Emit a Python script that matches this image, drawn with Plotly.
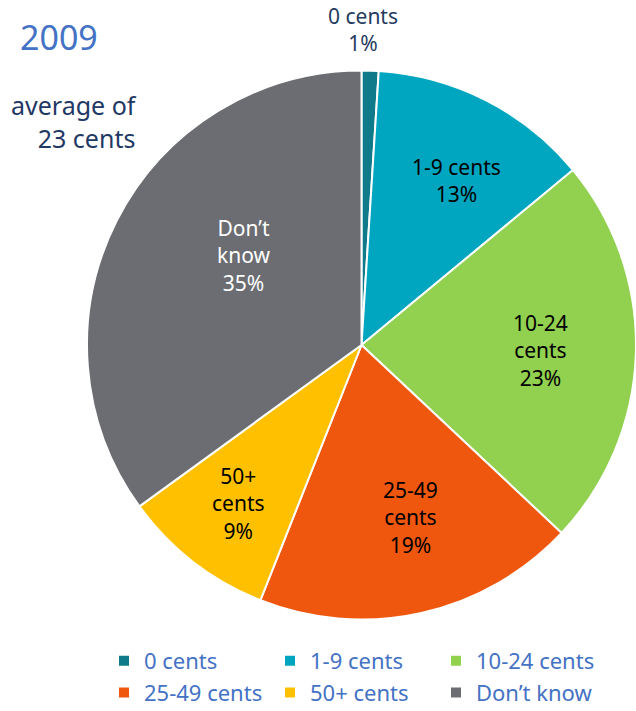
import math
import plotly.graph_objects as go

categories = ["0 cents", "1-9 cents", "10-24 cents", "25-49 cents", "50+ cents", "Don’t know"]
values = [1, 13, 23, 19, 9, 35]
label_texts = ["0 cents<br>1%", "1-9 cents<br>13%", "10-24<br>cents<br>23%",
               "25-49<br>cents<br>19%", "50+<br>cents<br>9%", "Don’t<br>know<br>35%"]
colors = ["#0f7b8a", "#00a6c0", "#92d050", "#ee570d", "#ffc000", "#6b6d72"]
label_colors = ["#243b5e", "#000000", "#000000", "#000000", "#000000", "#ffffff"]
label_radius = [1.146, 0.69, 0.65, 0.65, 0.73, 0.54]
label_angle_shift = [-1.6, 3, 0, -3, 0, 10]

W, H = 636, 711
FONT = "Noto Sans"

# pie geometry in pixels
cx, cy, R = 362, 345, 275

fig = go.Figure()
fig.add_trace(go.Pie(
    labels=categories, values=values, sort=False, direction="clockwise", rotation=0,
    marker=dict(colors=colors, line=dict(color="white", width=2)),
    textinfo="none", hoverinfo="label+percent",
    domain=dict(x=[(cx - R) / W, 1], y=[1 - (cy + R) / H, 1 - (cy - R) / H]),
))

annotations = []
total = sum(values)
cum = 0
for i, v in enumerate(values):
    mid = (cum + v / 2) / total * 360 + label_angle_shift[i]
    cum += v
    r = R * label_radius[i]
    px = cx + r * math.sin(math.radians(mid))
    py = cy - r * math.cos(math.radians(mid))
    annotations.append(dict(
        x=px / W, y=1 - py / H, xref="paper", yref="paper", showarrow=False,
        xanchor="center", yanchor="middle",
        text=label_texts[i], align="center",
        font=dict(family=FONT, size=21, color=label_colors[i]),
    ))

annotations.append(dict(x=18 / W, y=1 - 37 / H, xref="paper", yref="paper", showarrow=False,
                        xanchor="left", yanchor="middle", text="2009",
                        font=dict(family=FONT, size=34, color="#4472c4")))
annotations.append(dict(x=139 / W, y=1 - 121 / H, xref="paper", yref="paper", showarrow=False,
                        xanchor="right", yanchor="middle", align="right",
                        text="average of<br>23 cents",
                        font=dict(family=FONT, size=25, color="#1f3864")))

fig.update_layout(
    width=W, height=H,
    margin=dict(l=0, r=0, t=0, b=0, autoexpand=False),
    paper_bgcolor="white", plot_bgcolor="white",
    annotations=annotations,
    showlegend=True,
    legend=dict(orientation="h", x=104 / W, y=1 - 640 / H, xanchor="left", yanchor="top",
                entrywidth=121, entrywidthmode="pixels", traceorder="normal",
                font=dict(family=FONT, size=22, color="#4472c4")),
)

fig.write_html("out.html", config={"displayModeBar": False},
               post_script="document.body.style.margin='0';document.body.style.overflow='hidden';")
